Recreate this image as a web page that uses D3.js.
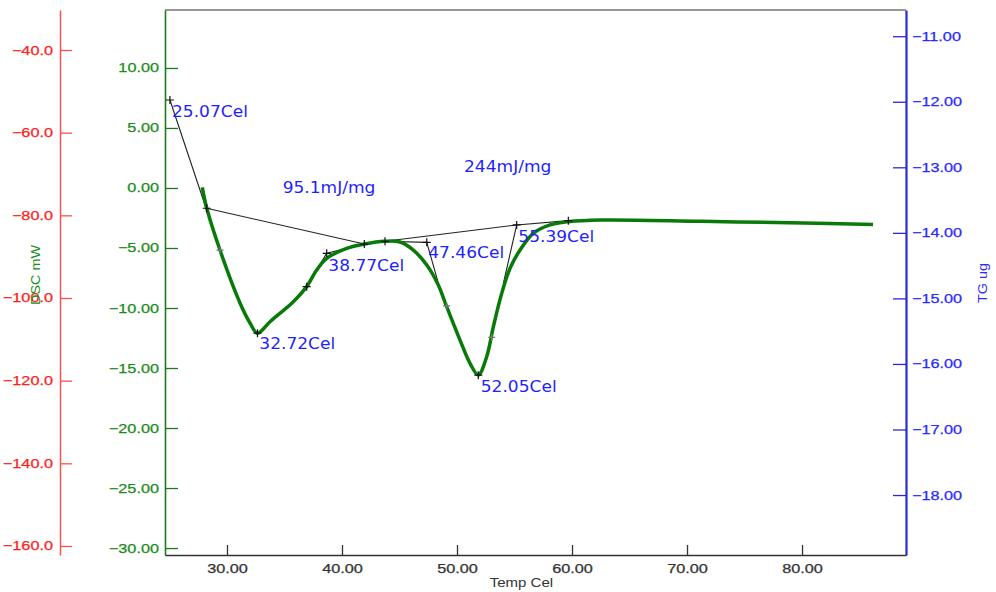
<!DOCTYPE html>
<html>
<head>
<meta charset="utf-8">
<script src="https://cdn.jsdelivr.net/npm/d3@7"></script>
<style>
  body { margin: 0; background: #fff; }
  svg { display: block; }
</style>
</head>
<body>
<svg id="chart"></svg>
<script>
// DSC curve (temperature in Cel, DSC in mW)
const dscTemp = [27.85, 28.23, 29.39, 31.13, 32.0, 32.65, 33.74, 35.77, 36.93, 37.8, 38.67, 40.41, 41.94, 43.74, 45.04, 46.2, 47.37, 48.37, 49.1, 50.26, 51.13, 51.85, 52.58, 53.16, 53.89, 54.61, 55.48, 56.63, 58.09, 59.68, 62.52, 71.3, 80.09, 86.17];
const dscValue = [0.05, -1.65, -5.17, -9.58, -11.25, -12.1, -11.14, -9.48, -8.22, -6.83, -5.86, -5.03, -4.67, -4.44, -4.5, -5.17, -6.42, -8.08, -9.89, -12.67, -14.61, -15.58, -14.06, -11.56, -8.78, -6.69, -5.17, -3.78, -3.08, -2.81, -2.67, -2.78, -2.92, -3.05];

// analysis marks (black crosses) and small grey crosses
const markTemp = [25.04, 28.23, 32.65, 36.93, 38.67, 41.94, 43.74, 47.37, 51.85, 55.19, 59.68];
const markValue = [7.33, -1.69, -12.1, -8.22, -5.44, -4.67, -4.44, -4.53, -15.6, -3.08, -2.72];
const minorTemp = [29.39, 49.1, 53.02];
const minorValue = [-5.17, -9.83, -12.44];

// tangent and baseline constructions, [temp, dsc] pairs
const tangentLines = [
  [[25.04, 7.33], [29.39, -5.17]],
  [[28.23, -1.69], [41.94, -4.67]],
  [[36.93, -8.22], [38.67, -5.44], [41.94, -4.67]],
  [[43.74, -4.44], [55.19, -3.08], [59.68, -2.72]],
  [[43.74, -4.44], [47.37, -4.53], [48.37, -7.9]],
  [[55.19, -3.08], [54.03, -7.94]]
];

// annotations: text, anchor temp, anchor dsc
const labelText = ["25.07Cel", "95.1mJ/mg", "38.77Cel", "32.72Cel", "47.46Cel", "55.39Cel", "52.05Cel", "244mJ/mg"];
const labelTemp = [25.22, 34.84, 38.81, 32.81, 47.5, 55.33, 52.06, 50.61];
const labelValue = [5.92, -0.42, -6.89, -13.42, -5.86, -4.48, -16.98, 1.36];

// axis ticks
const tempTicks = [30, 40, 50, 60, 70, 80];
const dscTicks = [10, 5, 0, -5, -10, -15, -20, -25, -30];
const redTicks = [-40, -60, -80, -100, -120, -140, -160];
const tgTicks = [-11, -12, -13, -14, -15, -16, -17, -18];

const width = 996, height = 592;
const plotLeft = 165, plotRight = 906, plotTop = 10, plotBottom = 555;

const svg = d3.select("#chart").attr("width", width).attr("height", height);
svg.append("rect").attr("width", width).attr("height", height).attr("fill", "#fff");

const x = d3.scaleLinear().domain([24.61, 89.04]).range([plotLeft, plotRight]);
const yDsc = d3.scaleLinear().domain([-30.58, 14.83]).range([plotBottom, plotTop]);
const yRed = d3.scaleLinear().domain([-162.18, -30.32]).range([plotBottom, plotTop]);
const yTg = d3.scaleLinear().domain([-18.915, -10.6]).range([plotBottom, plotTop]);

const axisFont = "'Liberation Sans', Arial, sans-serif";

function widen(sel, k) {
  sel.each(function () {
    const w = this.getComputedTextLength();
    d3.select(this).attr("textLength", w * k).attr("lengthAdjust", "spacingAndGlyphs");
  });
}

function styleAxis(g, color, lineColor, lineWidth) {
  g.select(".domain").attr("stroke", lineColor).attr("stroke-width", lineWidth);
  g.selectAll(".tick line").attr("stroke", lineColor).attr("stroke-width", 1.3);
  g.selectAll(".tick text")
    .attr("fill", color)
    .attr("stroke", color)
    .attr("stroke-width", 0.25)
    .style("font-family", axisFont)
    .style("font-size", "12.5px");
  widen(g.selectAll(".tick text"), 1.3);
}

// top frame line
svg.append("line")
  .attr("x1", plotLeft).attr("x2", plotRight).attr("y1", plotTop).attr("y2", plotTop)
  .attr("stroke", "#333").attr("stroke-width", 1.2);

// red axis
const gRed = svg.append("g")
  .attr("transform", `translate(60,0)`)
  .call(d3.axisLeft(yRed).tickValues(redTicks).tickFormat(d3.format(".1f"))
    .tickSize(-12).tickSizeOuter(0).tickPadding(7));
styleAxis(gRed, "#ff1c1c", "#ff5050", 1.5);

// green DSC axis
const gDsc = svg.append("g")
  .attr("transform", `translate(${plotLeft},0)`)
  .call(d3.axisLeft(yDsc).tickValues(dscTicks).tickFormat(d3.format(".2f"))
    .tickSize(-13).tickSizeOuter(0).tickPadding(6));
styleAxis(gDsc, "#1a8c1a", "#1a7d1a", 1.6);

// blue TG axis
const gTg = svg.append("g")
  .attr("transform", `translate(${plotRight},0)`)
  .call(d3.axisRight(yTg).tickValues(tgTicks).tickFormat(d3.format(".2f"))
    .tickSize(-13).tickSizeOuter(0).tickPadding(6));
styleAxis(gTg, "#2a2aff", "#2a2ad0", 2.2);

// temperature axis
const gX = svg.append("g")
  .attr("transform", `translate(0,${plotBottom})`)
  .call(d3.axisBottom(x).tickValues(tempTicks).tickFormat(d3.format(".2f"))
    .tickSize(-10).tickSizeOuter(0).tickPadding(9));
styleAxis(gX, "#333", "#333", 1.6);

// axis titles
const tDsc = svg.append("text")
  .attr("transform", "translate(40,275) rotate(-90)")
  .attr("text-anchor", "middle")
  .attr("fill", "#1a8c1a")
  .style("font-family", axisFont).style("font-size", "12.5px")
  .text("DSC mW");
widen(tDsc, 1.15);

const tTg = svg.append("text")
  .attr("transform", "translate(987,283) rotate(-90)")
  .attr("text-anchor", "middle")
  .attr("fill", "#2a2aff")
  .style("font-family", axisFont).style("font-size", "12.5px")
  .text("TG ug");
widen(tTg, 1.15);

const tX = svg.append("text")
  .attr("x", x(55.6)).attr("y", 587)
  .attr("text-anchor", "middle")
  .attr("fill", "#333")
  .style("font-family", axisFont).style("font-size", "12.5px")
  .text("Temp Cel");
widen(tX, 1.2);

// construction lines
const line = d3.line().x((d) => x(d[0])).y((d) => yDsc(d[1]));
svg.selectAll(".tangent")
  .data(tangentLines)
  .join("path")
  .attr("class", "tangent")
  .attr("d", line)
  .attr("fill", "none")
  .attr("stroke", "#222")
  .attr("stroke-width", 1.1);

// DSC curve
const dscData = dscTemp.map((t, i) => [t, dscValue[i]]);
svg.append("path")
  .datum(dscData)
  .attr("d", d3.line().x((d) => x(d[0])).y((d) => yDsc(d[1])).curve(d3.curveCatmullRom.alpha(0.5)))
  .attr("fill", "none")
  .attr("stroke", "#087a08")
  .attr("stroke-width", 3.5)
  .attr("stroke-linejoin", "round");

// crosses
function crosses(temps, values, size, color) {
  const pts = temps.map((t, i) => [x(t), yDsc(values[i])]);
  svg.append("path")
    .attr("d", pts.map(([px, py]) =>
      `M${px - size},${py}H${px + size}M${px},${py - size}V${py + size}`).join(""))
    .attr("stroke", color)
    .attr("stroke-width", 1.2)
    .attr("fill", "none");
}
crosses(markTemp, markValue, 4, "#111");
crosses(minorTemp, minorValue, 3.5, "#777");

// annotations
const labels = svg.selectAll(".anno")
  .data(labelText)
  .join("text")
  .attr("class", "anno")
  .attr("x", (d, i) => x(labelTemp[i]))
  .attr("y", (d, i) => yDsc(labelValue[i]))
  .attr("fill", "#1f1fff")
  .style("font-family", "'DejaVu Sans', Verdana, sans-serif")
  .style("font-size", "15.5px")
  .text((d) => d);
widen(labels, 1.1);
</script>
</body>
</html>
